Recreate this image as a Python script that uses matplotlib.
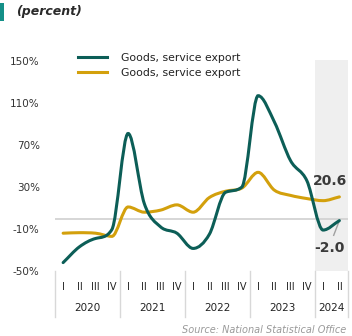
import numpy as np
import matplotlib
matplotlib.use("Agg")
import matplotlib.pyplot as plt
from matplotlib.path import Path
from matplotlib.patches import PathPatch, Rectangle
from matplotlib.transforms import blended_transform_factory

# --------- DATA ----------
QUARTERS = ["I", "II", "III", "IV"] * 4 + ["I", "II"]
YEARS = ["2020", "2021", "2022", "2023", "2024"]
YEAR_SPAN = [4, 4, 4, 4, 2]

goods_service_a = [-42, -27, -19, -10.5, 81, 14, -8, -14,
                   -28.5, -15, 25, 30, 117, 92, 55, 36, -11, -2.0]
goods_service_b = [-14, -13.5, -14, -17, 11, 6, 8, 13,
                   6, 20, 26, 29, 44, 27, 22, 19, 17, 20.6]

YTICKS = [-50, -10, 30, 70, 110, 150]
# -------------------------

GREEN = "#0c5e57"
GOLD = "#d3a00c"
TEAL = "#149088"
GREY_TXT = "#333333"


def smooth_path(xs, ys):
    # monotone cubic (Fritsch-Carlson) segments as bezier pieces
    xs = np.asarray(xs, float)
    ys = np.asarray(ys, float)
    h = np.diff(xs)
    d = np.diff(ys) / h
    m = np.zeros_like(ys)
    m[0], m[-1] = d[0], d[-1]
    for i in range(1, len(ys) - 1):
        if d[i - 1] * d[i] <= 0:
            m[i] = 0.0
        else:
            m[i] = (d[i - 1] + d[i]) / 2
    for i in range(len(d)):
        if d[i] == 0:
            m[i] = m[i + 1] = 0
            continue
        a, b = m[i] / d[i], m[i + 1] / d[i]
        s = a * a + b * b
        if s > 9:
            t = 3 / np.sqrt(s)
            m[i], m[i + 1] = t * a * d[i], t * b * d[i]
    verts = [(xs[0], ys[0])]
    codes = [Path.MOVETO]
    for i in range(len(xs) - 1):
        verts += [(xs[i] + h[i] / 3, ys[i] + m[i] * h[i] / 3),
                  (xs[i + 1] - h[i] / 3, ys[i + 1] - m[i + 1] * h[i] / 3),
                  (xs[i + 1], ys[i + 1])]
        codes += [Path.CURVE4] * 3
    return Path(verts, codes)


fig = plt.figure(figsize=(3.52, 3.36), dpi=100)
ax = fig.add_axes([55 / 352, 1 - 271 / 336, 292.5 / 352, 211 / 336])

x = np.arange(len(QUARTERS))
ax.set_xlim(-0.5, len(QUARTERS) - 0.5)
ax.set_ylim(-50, 151)

# shaded latest year
ax.add_patch(Rectangle((15.5, -50), 2, 201, facecolor="#efefef",
                       edgecolor="none", zorder=0))
ax.axhline(0, color="#d0d0d0", lw=1.2, zorder=1)

for vals, col in [(goods_service_b, GOLD), (goods_service_a, GREEN)]:
    ax.add_patch(PathPatch(smooth_path(x, vals), facecolor="none",
                           edgecolor=col, lw=2.2, capstyle="round", zorder=3))

# legend handles
ax.plot([], [], color=GREEN, lw=2.2, label="Goods, service export")
ax.plot([], [], color=GOLD, lw=2.2, label="Goods, service export")
ax.legend(loc="upper left", bbox_to_anchor=(0.045, 1.08), frameon=False,
          fontsize=7.8, handlelength=2.7, handletextpad=1.3, labelspacing=0.5,
          labelcolor="#222222")

for s in ax.spines.values():
    s.set_visible(False)
ax.set_yticks(YTICKS)
ax.set_yticklabels([f"{v}%" for v in YTICKS], fontsize=7.5, color=GREY_TXT)
ax.tick_params(axis="y", length=0, pad=11)
ax.set_xticks([])

# value labels at the end of each series
ax.text(17.5, goods_service_b[-1] + 15, f"{goods_service_b[-1]:.1f}", ha="right",
        va="center", fontsize=10, fontweight="bold", color="#3a3a3a")
ax.text(17.35, goods_service_a[-1] - 26, f"{goods_service_a[-1]:.1f}", ha="right",
        va="center", fontsize=10, fontweight="bold", color="#3a3a3a")
ax.plot([17, 16.65], [goods_service_a[-1], goods_service_a[-1] - 14],
        color="#a0a0a0", lw=1, zorder=2)

# quarter / year labels below the axis
tr = blended_transform_factory(ax.transData, ax.transAxes)
for xi, q in zip(x, QUARTERS):
    ax.text(xi, -0.078, q, transform=tr, ha="center", va="center",
            fontsize=7, color="#222222")
start = 0
bounds = [-0.5]
for yr, n in zip(YEARS, YEAR_SPAN):
    ax.text(start + (n - 1) / 2, -0.175, yr, transform=tr, ha="center",
            va="center", fontsize=7.5, color="#222222")
    start += n
    bounds.append(start - 0.5)
for b in bounds:
    ax.plot([b, b], [0, -0.22], transform=tr, color="#d8d8d8", lw=1,
            clip_on=False)

# heading
fig.patches.append(Rectangle((0, 1 - 21 / 336), 4 / 352, 18 / 336,
                             transform=fig.transFigure, facecolor=TEAL,
                             edgecolor="none"))
fig.text(16 / 352, 1 - 12 / 336, "(percent)", fontsize=9, style="italic",
         fontweight="bold", color="#2a2a2a", va="center", ha="left")
fig.text(346 / 352, 1 - 330 / 336, "Source: National Statistical Office",
         fontsize=7, style="italic", color="#9a9a9a", ha="right", va="center")

fig.savefig("out.png", dpi=100)
